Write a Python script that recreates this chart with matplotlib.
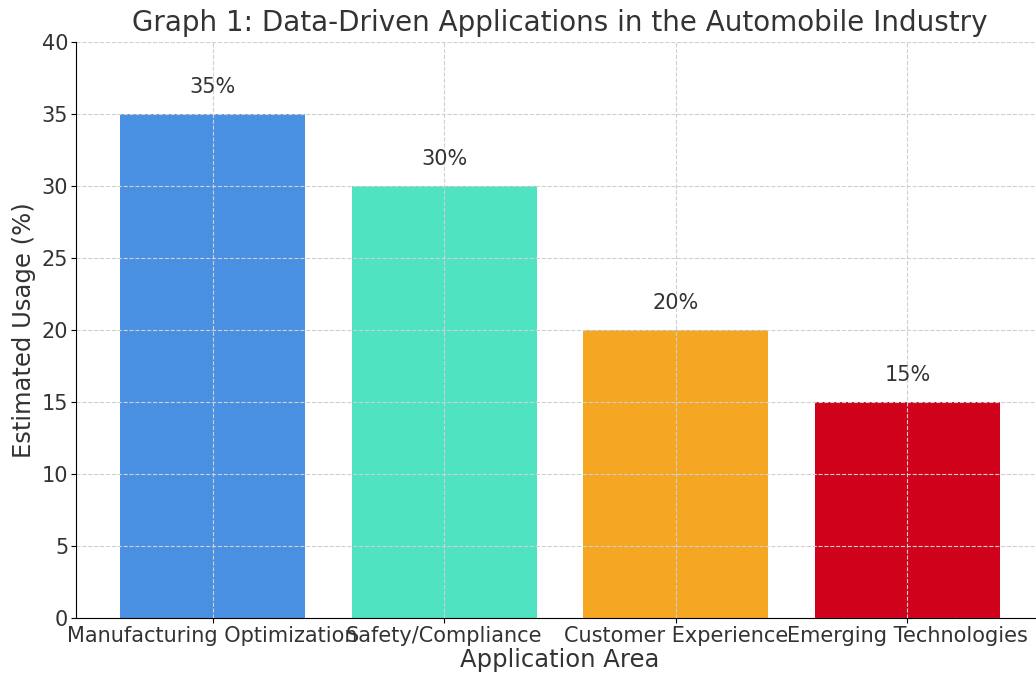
import matplotlib
matplotlib.use("Agg")
import matplotlib.pyplot as plt

areas = ["Manufacturing Optimization", "Safety/Compliance",
         "Customer Experience", "Emerging Technologies"]
usage = [35, 30, 20, 15]
colors = ["#4A90E2", "#50E3C2", "#F5A623", "#D0021B"]

text_color = "#333333"

fig = plt.figure(figsize=(10.36, 6.77), dpi=100)
ax = fig.add_axes([76 / 1036, 1 - 618 / 677, (1044 - 76) / 1036, (618 - 42) / 677])

bars = ax.bar(areas, usage, color=colors)
for b, v in zip(bars, usage):
    ax.text(b.get_x() + b.get_width() / 2, v + 1.9, f"{v}%",
            ha="center", va="center", fontsize=15, color=text_color)

ax.set_ylim(0, 40)
ax.set_title("Graph 1: Data-Driven Applications in the Automobile Industry",
             fontsize=20, color=text_color, pad=8)
ax.set_xlabel("Application Area", fontsize=17.5, color=text_color, labelpad=2)
ax.set_ylabel("Estimated Usage (%)", fontsize=17.5, color=text_color)
ax.tick_params(labelsize=15, labelcolor=text_color, pad=2)
ax.grid(True, linestyle="--", color="#d0d0d0", linewidth=0.8)
ax.spines["top"].set_visible(False)
ax.spines["right"].set_visible(False)

fig.savefig("out.png", dpi=100)
